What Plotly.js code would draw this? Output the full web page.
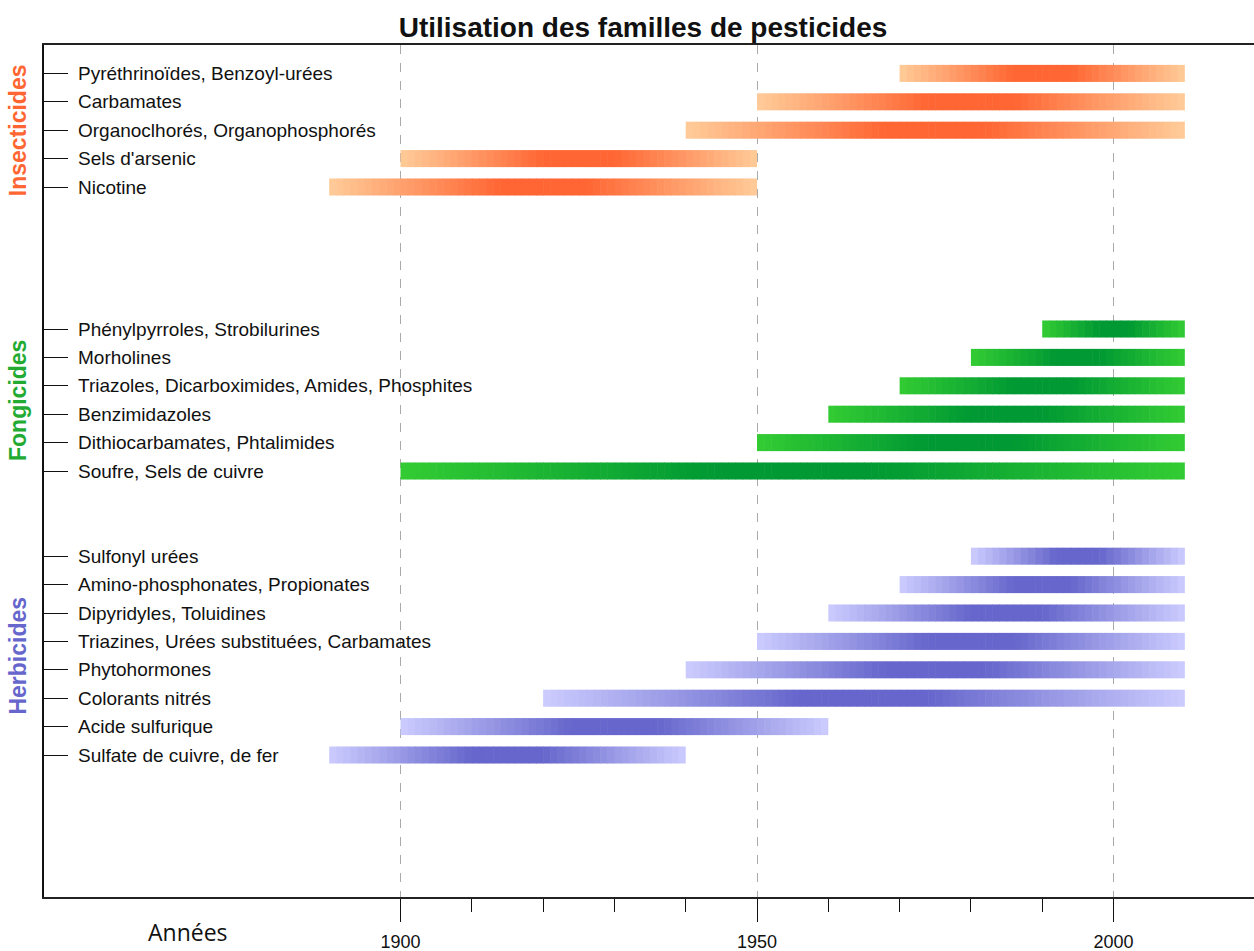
<!DOCTYPE html>
<html>
<head>
<meta charset="utf-8">
<script src="https://cdn.plot.ly/plotly-3.0.1.min.js"></script>
<style>html,body{margin:0;padding:0;background:#fff;}#chart{width:1254px;height:951px;}</style>
</head>
<body>
<div id="chart"></div>
<script>
// ---- Data ----
const insectLabels = ["Pyréthrinoïdes, Benzoyl-urées", "Carbamates", "Organoclhorés, Organophosphorés", "Sels d'arsenic", "Nicotine"];
const insectStart = [1970, 1950, 1940, 1900, 1890];
const insectEnd   = [2010, 2010, 2010, 1950, 1950];

const fongLabels = ["Phénylpyrroles, Strobilurines", "Morholines", "Triazoles, Dicarboximides, Amides, Phosphites", "Benzimidazoles", "Dithiocarbamates, Phtalimides", "Soufre, Sels de cuivre"];
const fongStart = [1990, 1980, 1970, 1960, 1950, 1900];
const fongEnd   = [2010, 2010, 2010, 2010, 2010, 2010];

const herbLabels = ["Sulfonyl urées", "Amino-phosphonates, Propionates", "Dipyridyles, Toluidines", "Triazines, Urées substituées, Carbamates", "Phytohormones", "Colorants nitrés", "Acide sulfurique", "Sulfate de cuivre, de fer"];
const herbStart = [1980, 1970, 1960, 1950, 1940, 1920, 1900, 1890];
const herbEnd   = [2010, 2010, 2010, 2010, 2010, 2010, 1960, 1940];

const groupNames = ["Insecticides", "Fongicides", "Herbicides"];
const xTickVals = [1900, 1950, 2000];
const xMinorTickVals = [1910, 1920, 1930, 1940, 1960, 1970, 1980, 1990];

// ---- Styles ----
const groups = [
  {labels: insectLabels, start: insectStart, end: insectEnd, light: [255, 204, 153], dark: [255, 102, 51], text: "#FF6633", firstRow: 1},
  {labels: fongLabels, start: fongStart, end: fongEnd, light: [51, 204, 51], dark: [0, 153, 51], text: "#22AA33", firstRow: 10},
  {labels: herbLabels, start: herbStart, end: herbEnd, light: [204, 204, 255], dark: [102, 102, 204], text: "#6666CC", firstRow: 18}
];

function mix(a, b, w) {
  return "rgb(" + a.map((v, i) => Math.round(v + (b[i] - v) * w)).join(",") + ")";
}

const traces = [];
const annotations = [];
const rowVals = [];
const STEP = 1;
const labelFont = "Liberation Sans, Arial, sans-serif";

groups.forEach((g, gi) => {
  const xs = [], bases = [], ys = [], cols = [];
  g.labels.forEach((lab, i) => {
    const row = g.firstRow + i;
    rowVals.push(row);
    const s = g.start[i], e = g.end[i];
    const mid = (s + e) / 2, half = (e - s) / 2;
    for (let x0 = s; x0 < e; x0 += STEP) {
      const x1 = Math.min(e, x0 + STEP);
      const c = (x0 + x1) / 2;
      const t = Math.abs(c - mid) / half;
      const w = Math.max(0, Math.min(1, (1 - t) / 0.8));
      bases.push(x0);
      xs.push(x1 - x0 + (x1 < e ? 0.08 : 0));
      ys.push(row);
      cols.push(mix(g.light, g.dark, w));
    }
    annotations.push({
      x: 1850, xref: "x", y: row, yref: "y", text: lab, showarrow: false,
      xanchor: "left", yanchor: "middle", xshift: 32,
      font: {family: labelFont, size: 19, color: "#111"}
    });
  });
  traces.push({
    type: "bar", orientation: "h", x: xs, base: bases, y: ys, width: 0.6,
    marker: {color: cols, line: {width: 0}}, hoverinfo: "skip", showlegend: false
  });
  const midRow = g.firstRow + (g.labels.length - 1) / 2;
  annotations.push({
    x: -0.0215, xref: "paper", y: midRow, yref: "y", text: "<b>" + groupNames[gi] + "</b>",
    showarrow: false, textangle: -90, xanchor: "center", yanchor: "middle",
    font: {family: labelFont, size: 23, color: g.text}
  });
});

annotations.push({
  x: 0.119, xref: "paper", y: -0.041, yref: "paper", text: "Années", showarrow: false,
  xanchor: "center", yanchor: "middle",
  font: {family: "Open Sans, Noto Sans, sans-serif", size: 23, color: "#111"}
});

const layout = {
  width: 1254, height: 951,
  margin: {l: 44, r: 0, t: 45, b: 54},
  paper_bgcolor: "#fff", plot_bgcolor: "#fff",
  barmode: "overlay",
  title: {
    text: "<b>Utilisation des familles de pesticides</b>",
    x: 643 / 1254, xref: "container", xanchor: "center",
    y: 1 - 27 / 951, yref: "container", yanchor: "middle",
    font: {family: labelFont, size: 28, color: "#111"}
  },
  xaxis: {
    range: [1850, 2019.7], fixedrange: true,
    showline: true, linecolor: "#222", linewidth: 2, mirror: true,
    ticks: "outside", ticklen: 23, tickwidth: 1, tickcolor: "#111",
    tickmode: "array", tickvals: xTickVals, ticktext: xTickVals.map(String),
    ticklabelstandoff: 4,
    tickfont: {family: labelFont, size: 18, color: "#111"},
    showgrid: true, gridcolor: "#AAAAAA", gridwidth: 1, griddash: "dash",
    zeroline: false,
    minor: {tickmode: "array", tickvals: xMinorTickVals, ticks: "outside", ticklen: 13, tickwidth: 1, tickcolor: "#111", showgrid: false}
  },
  yaxis: {
    range: [30, 0], fixedrange: true,
    showline: true, linecolor: "#111", linewidth: 2,
    ticks: "inside", ticklen: 24, tickwidth: 1, tickcolor: "#111",
    tickmode: "array", tickvals: rowVals, showticklabels: false,
    showgrid: false, zeroline: false
  },
  annotations: annotations
};

Plotly.newPlot("chart", traces, layout, {displayModeBar: false, staticPlot: true});
</script>
</body>
</html>
